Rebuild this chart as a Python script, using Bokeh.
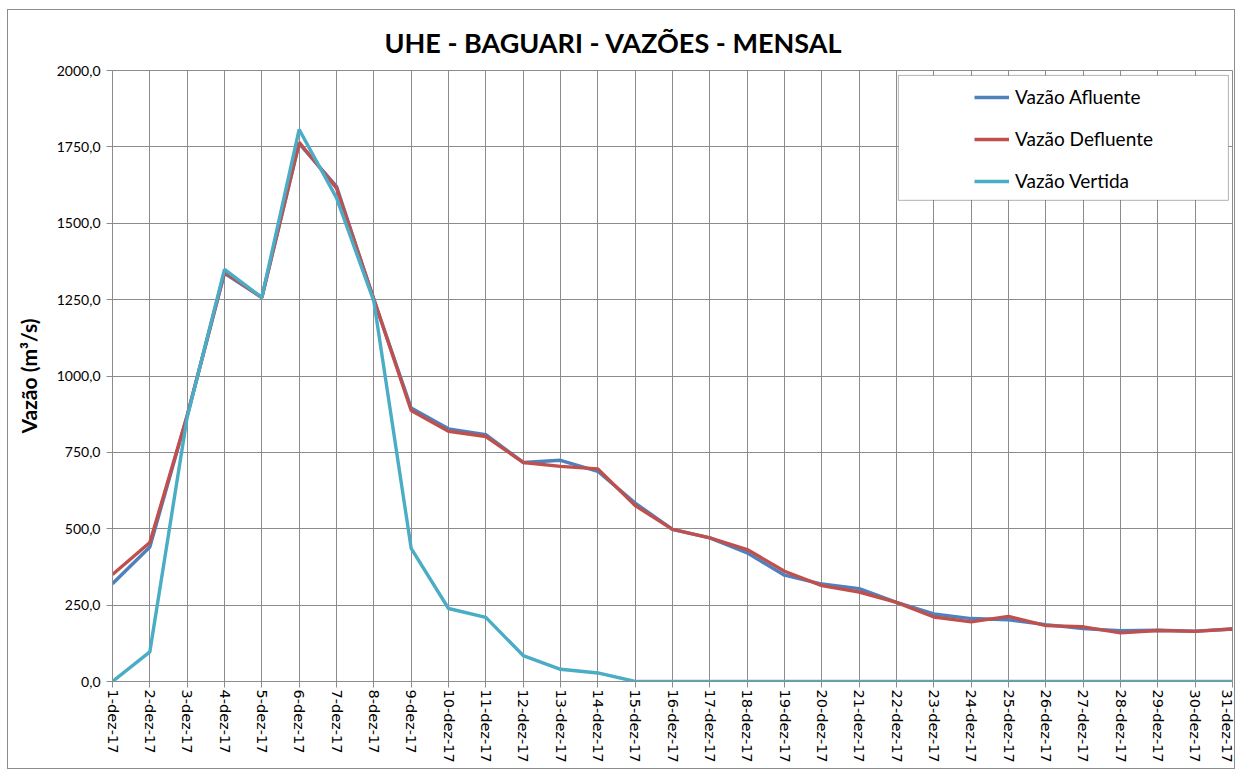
import math
from bokeh.plotting import figure
from bokeh.models import (Range1d, FixedTicker, CustomJSTickFormatter, Legend,
                          LegendItem, BoxAnnotation, ColumnDataSource)
from bokeh.embed import file_html
from bokeh.resources import INLINE

days = list(range(1, 32))
day_labels = ["1-dez-17", "2-dez-17", "3-dez-17", "4-dez-17", "5-dez-17", "6-dez-17",
              "7-dez-17", "8-dez-17", "9-dez-17", "10-dez-17", "11-dez-17", "12-dez-17",
              "13-dez-17", "14-dez-17", "15-dez-17", "16-dez-17", "17-dez-17", "18-dez-17",
              "19-dez-17", "20-dez-17", "21-dez-17", "22-dez-17", "23-dez-17", "24-dez-17",
              "25-dez-17", "26-dez-17", "27-dez-17", "28-dez-17", "29-dez-17", "30-dez-17",
              "31-dez-17"]
afluente = [320, 440, 870, 1336, 1257, 1761, 1621, 1250, 895, 827, 808, 717, 724, 688,
            584, 498, 470, 421, 348, 319, 304, 259, 221, 206, 202, 186, 173, 166, 168,
            165, 172]
defluente = [350, 455, 870, 1340, 1257, 1765, 1615, 1252, 887, 819, 802, 717, 704, 696,
             576, 498, 470, 432, 361, 314, 293, 259, 211, 195, 213, 183, 179, 159, 167,
             164, 172]
vertida = [0, 97, 865, 1349, 1257, 1807, 1583, 1245, 436, 239, 210, 85, 40, 28,
           0, 0, 0, 0, 0, 0, 0, 0, 0, 0, 0, 0, 0, 0, 0, 0, 0]
y_ticks = [0, 250, 500, 750, 1000, 1250, 1500, 1750, 2000]
series_names = ["Vazão Afluente", "Vazão Defluente", "Vazão Vertida"]
series_colors = ["#4F81BD", "#C0504D", "#4BACC6"]
title_text = "UHE - BAGUARI - VAZÕES - MENSAL"

GRID = "#8c8c8c"
FONT = "Lato"

p = figure(width=1228, height=760, output_backend="svg", toolbar_location=None,
           x_range=Range1d(1, 31), y_range=Range1d(0, 2000),
           min_border_left=104, min_border_right=4, min_border_top=60,
           min_border_bottom=89)
p.styles = {"border": "1px solid #8c8c8c", "margin-left": "7px", "margin-top": "9px"}
p.background_fill_color = "white"
p.border_fill_color = "white"
p.outline_line_color = GRID

p.title.text = title_text
p.title.align = "left"
p.title.offset = 272
p.title.vertical_align = "top"
p.title.standoff = 20
p.title.text_font = FONT
p.title.text_font_style = "bold"
p.title.text_font_size = "27px"
p.title.text_color = "black"

p.xaxis.ticker = FixedTicker(ticks=days)
p.xaxis.major_label_overrides = {d: l for d, l in zip(days, day_labels)}
p.xaxis.major_label_orientation = -math.pi / 2
p.xaxis.major_label_text_font = "DejaVu Sans"
p.xaxis.major_label_text_font_size = "14.5px"
p.xaxis.major_label_text_color = "black"
p.xaxis.major_label_standoff = 2
p.yaxis.ticker = FixedTicker(ticks=y_ticks)
p.yaxis.formatter = CustomJSTickFormatter(code="return tick.toFixed(1).replace('.', ',');")
p.yaxis.major_label_text_font = FONT
p.yaxis.major_label_text_font_size = "14px"
p.yaxis.major_label_text_color = "black"
p.yaxis.major_label_standoff = 6
p.yaxis.axis_label = "Vazão (m³/s)"
p.yaxis.axis_label_text_font = FONT
p.yaxis.axis_label_text_font_style = "bold"
p.yaxis.axis_label_text_font_size = "21px"
p.yaxis.axis_label_text_color = "black"
p.yaxis.axis_label_standoff = 13
for ax in (p.xaxis, p.yaxis):
    ax.axis_line_color = GRID
    ax.major_tick_line_color = GRID
    ax.major_tick_out = 6
    ax.major_tick_in = 0
    ax.minor_tick_line_color = None
p.grid.grid_line_color = GRID
p.grid.grid_line_width = 1

src = ColumnDataSource(dict(x=days, afl=afluente, dfl=defluente, ver=vertida))
renderers = []
for col, color in zip(["afl", "dfl", "ver"], series_colors):
    r = p.line("x", col, source=src, line_color=color, line_width=3.4)
    renderers.append(r)

# legend frame (white box with black border), positioned in data space
box = BoxAnnotation(left=22.05, right=30.89, top=1984, bottom=1575,
                    fill_color="white", fill_alpha=1.0, line_color="black",
                    line_width=1, level="overlay")
p.add_layout(box)

legend = Legend(items=[LegendItem(label=n, renderers=[r]) for n, r in zip(series_names, renderers)],
                location=(862, 489), padding=0, margin=0, spacing=19,
                glyph_width=35, glyph_height=20, label_height=20, label_standoff=6,
                border_line_alpha=0, background_fill_alpha=0,
                label_text_font=FONT, label_text_font_size="19px",
                label_text_color="black", level="overlay")
p.add_layout(legend)

open("out.html", "w").write(file_html(p, INLINE))
